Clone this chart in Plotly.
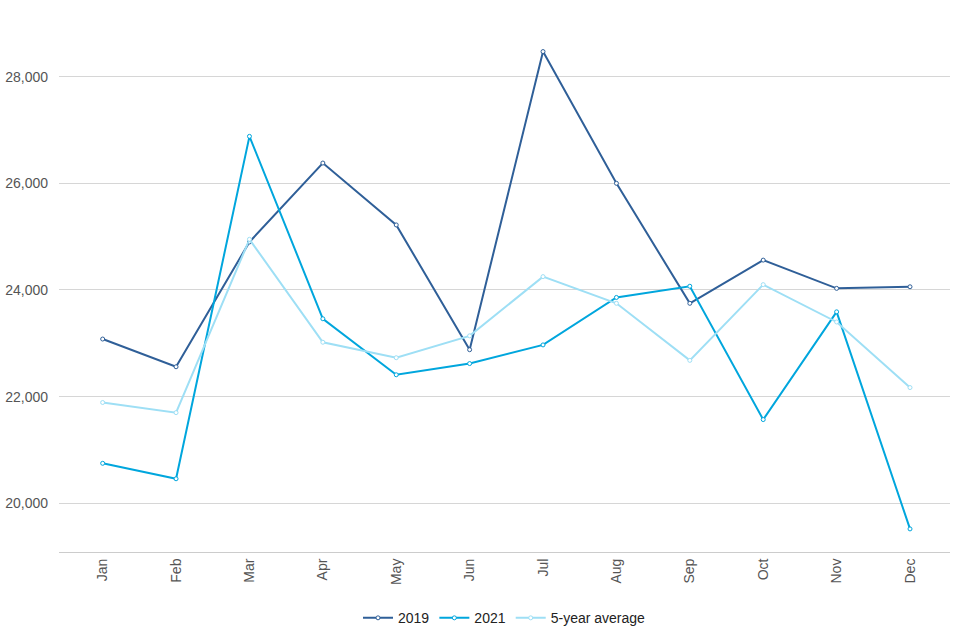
import plotly.graph_objects as go

months = ["Jan", "Feb", "Mar", "Apr", "May", "Jun", "Jul", "Aug", "Sep", "Oct", "Nov", "Dec"]
y2019 = [23080, 22560, 24900, 26380, 25220, 22880, 28470, 26000, 23750, 24560, 24030, 24060]
y2021 = [20750, 20460, 26880, 23460, 22410, 22620, 22970, 23860, 24070, 21570, 23590, 19520]
y5avg = [21890, 21700, 24950, 23020, 22730, 23140, 24250, 23750, 22680, 24100, 23400, 22170]
yticks = [20000, 22000, 24000, 26000, 28000]

series = [
    ("2019", y2019, "#2f5f98"),
    ("2021", y2021, "#00a6dd"),
    ("5-year average", y5avg, "#9edff5"),
]

fig = go.Figure()
for name, vals, col in series:
    fig.add_trace(go.Scatter(
        x=list(range(len(months))), y=vals, name=name, mode="lines+markers",
        line=dict(color=col, width=2),
        marker=dict(size=4, color="white", line=dict(color=col, width=1)),
    ))

fig.update_layout(
    width=960, height=640,
    margin=dict(l=59, r=10, t=20, b=88, autoexpand=False),
    paper_bgcolor="white", plot_bgcolor="white",
    font=dict(family="Liberation Sans, Arial, sans-serif", size=14, color="#555555"),
    showlegend=True,
    legend=dict(orientation="h", x=0.5, xanchor="center",
                yref="container", y=0.034, yanchor="middle",
                itemwidth=30,
                font=dict(size=14, color="#222222")),
    xaxis=dict(
        tickmode="array", tickvals=list(range(len(months))), ticktext=months,
        tickangle=-90, range=[-0.595, 11.545], showgrid=False, zeroline=False,
        showline=True, linecolor="#cccccc", linewidth=1, ticks="",
        automargin=False,
    ),
    yaxis=dict(
        range=[19087, 29062], tickvals=yticks, tickformat=",",
        showgrid=True, gridcolor="#d6d6d6", gridwidth=1, zeroline=False,
        showline=False, ticks="", ticklabelstandoff=10, automargin=False,
    ),
)

fig.write_html(
    "out.html",
    config={"displayModeBar": False},
    post_script=(
        "var h=document.documentElement,b=document.body;"
        "h.style.margin='0';h.style.padding='0';h.style.height='640px';h.style.overflow='hidden';"
        "b.style.margin='0';b.style.padding='0';b.style.height='640px';b.style.overflow='hidden';"
    ),
)
